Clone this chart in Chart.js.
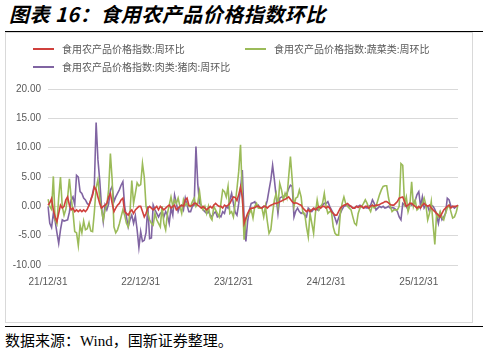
<!DOCTYPE html>
<html>
<head>
<meta charset="utf-8">
<script src="https://cdn.jsdelivr.net/npm/chart.js@4"></script>
<style>
  body { margin: 0; background: #fff; width: 489px; height: 354px; position: relative; overflow: hidden; }
  #title { position: absolute; left: 9px; top: 1px; font: italic bold 20px "Noto Sans CJK SC", sans-serif; letter-spacing: 0.5px; color: #000; line-height: 26px; }
  .rule { position: absolute; left: 5px; width: 478px; height: 1px; background: #000; }
  #frame { position: absolute; left: 5px; top: 32px; width: 468px; height: 291px; border: 1px solid #d9d9d9; box-sizing: border-box; }
  #frame canvas { position: absolute; left: 0; top: 0; }
  #source { position: absolute; left: 5px; top: 331px; font: 15px "Liberation Serif", "Noto Sans CJK SC", serif; color: #000; line-height: 20px; }
</style>
</head>
<body>
<div id="title">图表 16：食用农产品价格指数环比</div>
<div class="rule" style="top:31px"></div>
<div id="frame"><canvas id="chart" width="466" height="289"></canvas></div>
<div class="rule" style="top:326px"></div>
<div id="source">数据来源：Wind，国新证券整理。</div>
<script>
// weekly, week-on-week change (%)
const foodIndex = [
  0.2, 0.6, 1.3, -0.6, -1.8, -2.6, -1.2, 0.2, -0.3, 0.0,
  1.1, 1.6, 0.2, -0.6, -0.3, -0.9, -0.6, -0.9, -0.6, -0.9,
  -0.6, -0.9, -0.5, 0.2, 1.1, 1.9, 3.3, 2.8, 1.6, 0.5,
  -0.3, 0.0, 0.2, 0.5, 1.6, 2.2, 0.5, -0.9, -0.3, 0.2,
  0.5, 1.1, 1.4, -0.9, -1.2, -1.5, -0.9, -0.6, -1.2, -0.6,
  -0.3, 0.0, 0.0, -0.9, -1.8, -1.2, -0.3, 0.0, -0.3, -0.6,
  -0.3, 0.0, -0.6, 0.0, -0.3, -0.6, -0.3, 0.0, 0.2, -0.3,
  0.0, 0.2, -0.6, -0.3, 0.0, 0.2, 0.0, 1.1, 1.4, 0.2,
  0.0, 0.2, 0.5, 0.5, 0.2, 0.0, -0.3, 0.0, -0.3, -0.6,
  -0.3, 0.0, -0.3, 0.2, 0.5, 0.2, 0.0, 0.0, -0.3, 0.2,
  0.0, 0.2, 0.5, 1.1, 1.6, 1.5, 1.0, 2.0, 3.3, 1.5,
  -2.9, -2.0, -1.2, -0.6, -0.3, -0.3, -0.2, 0.0, 0.0, -0.2,
  -0.3, 0.0, 0.0, -0.3, 0.0, 0.2, 0.3, 0.5, 0.5, 0.6,
  0.8, 0.9, 1.1, 1.2, 1.4, 1.6, 1.2, 0.8, 0.5, 0.6,
  0.5, 0.3, 0.2, -0.3, -0.6, -0.9, -0.6, -0.9, -0.6, -0.3,
  -0.6, -0.3, 0.0, -0.3, 0.0, 0.0, -0.3, 0.0, -0.3, -0.9,
  -1.2, -1.5, -1.5, -0.9, -0.3, 0.0, 0.2, 0.3, 0.5, 0.2,
  0.0, -0.3, -0.3, 0.0, -0.2, 0.0, 0.0, -0.3, 0.0, 0.0,
  -0.3, 0.0, 0.2, 0.0, 0.2, 0.2, 0.3, 0.5, 0.6, 0.8,
  0.8, 0.6, 0.3, 0.2, 0.2, 0.5, 0.8, 1.4, 1.5, 1.6,
  0.8, 0.0, 0.2, 0.5, 0.5, 0.2, 0.0, -0.3, 0.0, -0.3,
  0.2, 0.5, 0.2, 0.0, 0.2, -0.3, -0.6, -0.9, -1.2, -1.5,
  -1.8, -1.2, -0.6, -0.3, 0.0, 0.2, -0.3, 0.0, 0.0, 0.0,
  0.2
];
const vegetables = [
  1.2, 0.0, -0.5, 5.1, -2.3, -3.0, 1.5, 5.0, 0.0, -1.5,
  -0.5, 1.5, 4.7, 1.5, -1.0, -4.3, -4.5, -6.7, -3.2, -4.5,
  -2.5, -4.0, -3.8, -2.8, -4.2, -4.3, -1.0, 3.2, 4.5, 1.5,
  -0.5, -2.3, -0.6, 0.2, 2.8, 9.0, 4.5, -3.5, -4.5, -4.0,
  -3.0, -1.8, -0.6, -1.5, -2.9, -3.5, -1.0, 4.4, 0.5, 2.2,
  4.0, 3.5, 3.7, 7.3, 5.0, 0.0, -1.2, -2.3, -2.9, -3.2,
  -1.2, -2.3, -2.9, -3.5, 0.0, -2.9, -4.0, -1.2, 0.2, 1.6,
  0.0, 1.1, 0.5, 1.4, 0.0, -1.2, 1.1, 0.2, 0.5, 0.0,
  0.0, 0.8, 1.4, 0.0, 0.5, 2.5, 0.0, -0.6, 0.0, -1.2,
  0.0, -1.8, -2.3, 0.0, -0.6, -1.2, -1.8, 0.5, 2.8, 2.5,
  1.6, 3.4, -1.2, -0.9, -1.8, 0.5, 3.0, 6.0, 10.5, 2.0,
  -5.7, -2.3, -1.5, -1.2, -0.6, -2.0, 0.0, 0.5, -0.3, -0.3,
  -0.3, -1.8, 0.0, -2.5, -4.6, -4.0, -1.2, 1.1, 2.2, 0.0,
  3.9, 2.8, 1.1, 2.2, 1.4, 5.0, 8.5, 4.5, 0.0, 1.4,
  1.6, 2.8, 1.6, -1.2, -1.2, -3.5, -5.2, -1.2, -2.9, -4.6,
  -1.2, 1.1, -0.6, 0.0, 0.5, 2.2, 0.0, -1.2, -0.9, -0.9,
  -3.5, -4.6, -4.9, -4.9, -1.2, 0.5, 1.6, 0.5, 0.0, -0.3,
  -0.6, -1.8, -2.9, -3.2, -1.2, -0.3, 0.0, 0.5, 1.1, 0.5,
  -0.3, -0.9, 0.2, -0.3, 0.0, 1.0, 2.0, 2.8, 3.4, 3.5,
  3.5, 1.5, 0.0, -0.9, -0.6, -0.6, -0.6, 0.0, 7.3, 7.0,
  0.5, 1.6, -0.9, 0.2, 4.2, 0.0, 1.0, -0.6, -0.3, 0.0,
  0.5, 1.4, 0.2, -2.3, -1.2, 0.8, -3.0, -6.5, -1.2, -1.8,
  -0.9, -1.8, -2.3, -1.2, -0.3, 0.2, -0.9, -2.0, -1.8, -1.0,
  0.2
];
const pork = [
  0.0, -2.9, -3.6, -1.2, -2.5, -4.5, -6.3, -4.0, -2.3, -2.5,
  -2.4, -2.3, -1.0, 1.1, 1.6, 0.3, 5.3, 5.0, 2.5, 2.2,
  1.4, 1.1, 0.5, 0.2, 1.0, 2.2, 3.6, 14.3, 8.0, 4.5,
  0.0, -2.6, 0.2, -0.6, 0.4, 2.8, 3.4, 0.8, 1.6, 2.2,
  2.8, 3.6, 4.2, 0.0, -1.8, -3.5, -2.3, -1.5, -2.9, -1.6,
  -4.0, -7.0, -4.3, -6.0, -5.8, -4.5, 0.0, -5.5, -5.4, 0.2,
  -0.6, -1.2, -1.8, -1.2, -0.9, -1.8, -0.9, -1.5, -2.9, -0.3,
  -1.5, 1.9, 0.5, -0.9, 0.0, 0.2, -0.6, 1.4, 0.2, -0.9,
  -0.9, 0.0, 0.2, 10.2, 3.9, 0.5, 0.2, -0.6, -0.9, -1.2,
  -0.9, -1.5, -1.8, -1.2, -0.9, -1.8, -1.5, -1.8, -0.9, -1.2,
  0.0, -0.3, 1.1, 2.2, 0.5, -1.0, -1.5, 0.5, 3.0, 6.2,
  -2.0, -6.0, -2.5, -0.6, 0.5, 0.6, 0.8, 0.0, 0.2, -0.3,
  -0.3, 0.0, 0.0, 1.0, 2.8, 4.5, 7.0, 4.5, 1.6, -1.2,
  1.4, 1.6, 1.6, 2.0, 2.2, 3.0, 3.6, 3.4, -1.8, -0.8,
  -0.3, -0.9, -1.2, -1.0, -1.5, -1.8, -0.3, -0.6, -0.9, -0.5,
  -0.3, -0.6, -0.6, 0.0, 0.2, 0.5, 0.5, 0.8, 0.0, -0.6,
  -1.2, -2.0, -2.9, -2.0, -1.2, -0.5, 0.0, 0.1, 0.2, 0.0,
  0.0, -0.3, -0.3, 0.0, 0.0, 0.2, 0.0, -0.3, -0.2, -0.3,
  0.0, 0.2, 1.1, 0.5, -0.6, -0.3, 0.0, -0.2, 0.0, -0.3,
  -0.2, 0.0, -0.3, -0.2, -0.3, -0.5, -0.9, -1.8, -2.3, 0.5,
  0.2, 0.0, -0.6, 0.5, 0.2, 0.5, 1.0, 2.0, 2.5, 0.0,
  1.6, -0.3, 0.2, 0.0, -0.9, 0.2, 0.0, -0.5, -1.5, -2.9,
  -1.2, -2.3, -1.8, -1.2, 1.4, 1.1, 0.0, 0.0, -0.3, 0.0,
  0.0
];
const seriesNames = ["食用农产品价格指数:周环比", "食用农产品价格指数:蔬菜类:周环比", "食用农产品价格指数:肉类:猪肉:周环比"];
const tickLabels = ["21/12/31", "22/12/31", "23/12/31", "24/12/31", "25/12/31"];
const tickEvery = 52;

// weekly dates starting 2021-12-31
const weeks = [];
for (let i = 0; i < foodIndex.length; i++) {
  const d = new Date(2021, 11, 31 + 7 * i);
  weeks.push(d.getFullYear() + "-" + (d.getMonth() + 1) + "-" + d.getDate());
}

const textColor = "#595959";
const gridColor = "#d9d9d9";

// two-row legend laid out like the excel original
const legendPlugin = {
  id: "rowLegend",
  afterDraw(chart) {
    const ctx = chart.ctx;
    const spots = [[27, 16], [239, 16], [27, 34]];
    ctx.save();
    ctx.font = '10px "Noto Sans CJK SC", sans-serif';
    ctx.textBaseline = "middle";
    chart.data.datasets.forEach((ds, i) => {
      const [x, y] = spots[i];
      ctx.strokeStyle = ds.borderColor;
      ctx.lineWidth = 2;
      ctx.beginPath();
      ctx.moveTo(x, y);
      ctx.lineTo(x + 21, y);
      ctx.stroke();
      ctx.fillStyle = textColor;
      ctx.fillText(ds.label, x + 29, y);
    });
    ctx.restore();
  }
};

new Chart(document.getElementById("chart"), {
  type: "line",
  data: {
    labels: weeks,
    datasets: [
      { label: seriesNames[0], data: foodIndex, borderColor: "#d0403c", borderWidth: 1.6 },
      { label: seriesNames[1], data: vegetables, borderColor: "#9bbb59", borderWidth: 1.6 },
      { label: seriesNames[2], data: pork, borderColor: "#8064a2", borderWidth: 1.6 }
    ]
  },
  options: {
    responsive: false,
    animation: false,
    elements: { point: { radius: 0 }, line: { tension: 0 } },
    layout: { padding: { left: 0, right: 14, top: 56, bottom: 32 } },
    plugins: { legend: { display: false }, tooltip: { enabled: false } },
    scales: {
      x: {
        grid: { display: false },
        border: { display: false },
        afterBuildTicks: s => { s.ticks = s.ticks.filter(t => t.value % tickEvery === 0); },
        afterFit: s => { s.height = 25; },
        ticks: {
          autoSkip: false, maxRotation: 0, padding: 3,
          color: textColor, font: { family: "Liberation Sans", size: 10 },
          callback: v => tickLabels[v / tickEvery]
        }
      },
      y: {
        min: -10, max: 20,
        grid: { color: gridColor, lineWidth: 1, drawTicks: false },
        border: { display: false },
        afterFit: s => { s.width = 42; },
        ticks: {
          stepSize: 5, padding: 7,
          color: textColor, font: { family: "Liberation Sans", size: 10 },
          callback: v => v.toFixed(2)
        }
      }
    }
  },
  plugins: [legendPlugin]
});
</script>
</body>
</html>
